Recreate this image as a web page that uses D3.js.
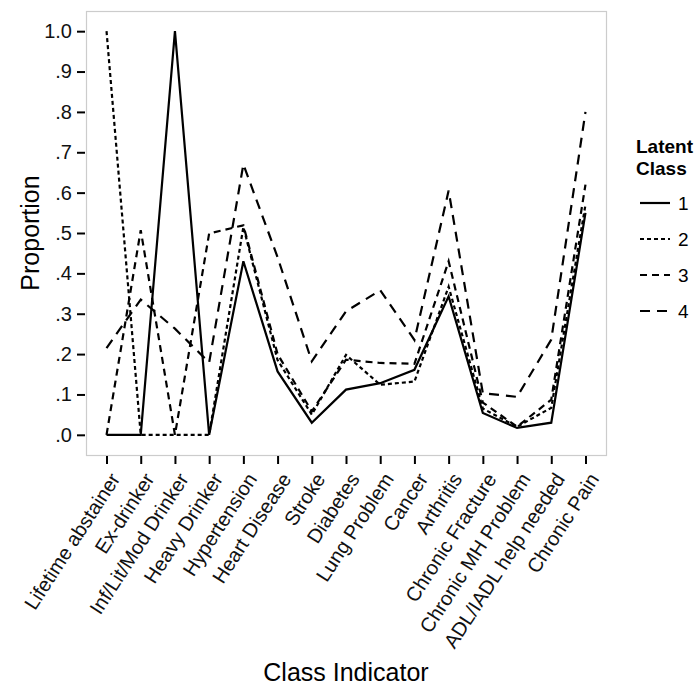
<!DOCTYPE html>
<html>
<head>
<meta charset="utf-8">
<script src="https://cdn.jsdelivr.net/npm/d3@7"></script>
<style>
  html, body { margin: 0; padding: 0; background: #fff; }
  svg { display: block; font-family: "Liberation Sans", Arial, Helvetica, sans-serif; }
</style>
</head>
<body>
<svg id="chart" width="697" height="686"></svg>
<script>
const categories = ["Lifetime abstainer", "Ex-drinker", "Inf/Lit/Mod Drinker", "Heavy Drinker",
  "Hypertension", "Heart Disease", "Stroke", "Diabetes", "Lung Problem", "Cancer", "Arthritis",
  "Chronic Fracture", "Chronic MH Problem", "ADL/IADL help needed", "Chronic Pain"];

const class1 = [0.00, 0.00, 1.00, 0.00, 0.430, 0.157, 0.030, 0.112, 0.128, 0.161, 0.343, 0.054, 0.017, 0.030, 0.550];
const class2 = [1.00, 0.00, 0.00, 0.00, 0.515, 0.185, 0.050, 0.198, 0.124, 0.132, 0.367, 0.065, 0.020, 0.067, 0.570];
const class3 = [0.00, 0.507, 0.00, 0.499, 0.519, 0.200, 0.058, 0.186, 0.178, 0.176, 0.430, 0.080, 0.020, 0.087, 0.620];
const class4 = [0.215, 0.335, 0.263, 0.179, 0.670, 0.440, 0.182, 0.306, 0.358, 0.235, 0.605, 0.103, 0.094, 0.236, 0.800];

const classNames = ["1", "2", "3", "4"];
const yTicks = [0, 0.1, 0.2, 0.3, 0.4, 0.5, 0.6, 0.7, 0.8, 0.9, 1.0];
const yTickLabels = [".0", ".1", ".2", ".3", ".4", ".5", ".6", ".7", ".8", ".9", "1.0"];

const series = [class1, class2, class3, class4];
const dashes = [null, "4,3", "7,5", "10,7"];

const svg = d3.select("#chart");
const panel = { left: 86, top: 11, right: 606, bottom: 455 };

const x = d3.scalePoint().domain(categories)
  .range([panel.left, panel.right]).padding(0.6);
const y = d3.scaleLinear().domain([-0.05, 1.05]).range([panel.bottom, panel.top]);

// panel
svg.append("rect")
  .attr("x", panel.left + 0.5).attr("y", panel.top + 0.5)
  .attr("width", panel.right - panel.left).attr("height", panel.bottom - panel.top)
  .attr("fill", "#fff").attr("stroke", "#cccccc").attr("stroke-width", 1.2);

// y axis
const yAxis = d3.axisLeft(y).tickValues(yTicks)
  .tickFormat((d, i) => yTickLabels[i]).tickSize(8).tickPadding(5);
const gy = svg.append("g").attr("transform", `translate(${panel.left - 1},0)`).call(yAxis);
gy.select(".domain").remove();
gy.selectAll(".tick line").attr("stroke", "#000").attr("stroke-width", 2);
gy.selectAll(".tick text").attr("font-size", 20).attr("fill", "#111");

// x axis
const xAxis = d3.axisBottom(x).tickSize(8).tickPadding(4);
const gx = svg.append("g").attr("transform", `translate(0,${panel.bottom + 1})`).call(xAxis);
gx.select(".domain").remove();
gx.selectAll(".tick line").attr("stroke", "#000").attr("stroke-width", 2);
gx.selectAll(".tick text")
  .attr("font-size", 20).attr("fill", "#111")
  .attr("text-anchor", "end")
  .attr("dy", null)
  .attr("transform", "translate(8,19) rotate(-57)")
  .attr("x", 0).attr("y", 0)
  .attr("dominant-baseline", "central");

// lines
const line = d3.line().x((d, i) => x(categories[i])).y(d => y(d));
series.forEach((s, k) => {
  svg.append("path").datum(s)
    .attr("d", line)
    .attr("fill", "none")
    .attr("stroke", "#000")
    .attr("stroke-width", 2.2)
    .attr("stroke-linejoin", "miter")
    .attr("stroke-dasharray", dashes[k]);
});

// axis titles
svg.append("text").attr("x", 346).attr("y", 681)
  .attr("text-anchor", "middle").attr("font-size", 25).attr("fill", "#000")
  .text("Class Indicator");
svg.append("text").attr("transform", `translate(39,233) rotate(-90)`)
  .attr("text-anchor", "middle").attr("font-size", 25).attr("fill", "#000")
  .text("Proportion");

// legend
const lg = svg.append("g").attr("transform", "translate(636,0)");
lg.append("text").attr("x", 0).attr("y", 153).attr("font-size", 19).attr("font-weight", "bold").text("Latent");
lg.append("text").attr("x", 0).attr("y", 175).attr("font-size", 19).attr("font-weight", "bold").text("Class");
classNames.forEach((c, k) => {
  const yy = 203 + k * 36;
  lg.append("line").attr("x1", 4).attr("x2", 34).attr("y1", yy).attr("y2", yy)
    .attr("stroke", "#000").attr("stroke-width", 2.2).attr("stroke-dasharray", dashes[k]);
  lg.append("text").attr("x", 42).attr("y", yy).attr("dy", "0.35em")
    .attr("font-size", 19).text(c);
});
</script>
</body>
</html>
